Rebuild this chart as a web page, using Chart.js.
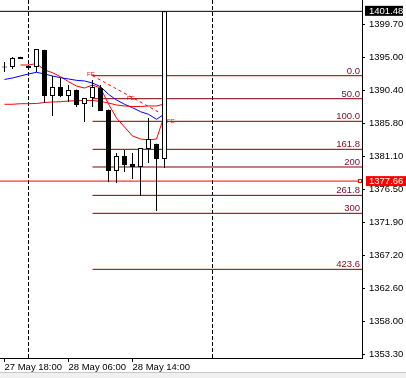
<!DOCTYPE html>
<html>
<head>
<meta charset="utf-8">
<script src="https://cdn.jsdelivr.net/npm/chart.js@4.4.0/dist/chart.umd.min.js"></script>
<style>
  html, body { margin: 0; padding: 0; background: #fff; }
  canvas { display: block; }
</style>
</head>
<body>
<canvas id="myChart" width="406" height="378"></canvas>
<script>
// candles, oldest first (x = candle index)
var opens  = [1393.75, 1393.67, 1395.07, 1393.81, 1393.67, 1396.05, 1389.60, 1390.86, 1389.60, 1390.44, 1388.48,
              1389.32, 1390.72, 1387.64, 1379.08, 1381.18, 1380.06, 1379.64, 1382.16, 1382.86, 1380.76];
var highs  = [1394.37, 1395.07, 1395.10, 1393.90, 1396.20, 1396.10, 1392.41, 1392.13, 1391.14, 1390.50, 1389.32,
              1391.85, 1391.14, 1387.70, 1381.60, 1382.02, 1381.60, 1382.30, 1386.51, 1382.90, 1401.48];
var lows   = [1392.97, 1393.39, 1394.79, 1393.50, 1392.97, 1388.62, 1386.79, 1389.46, 1388.76, 1388.06, 1385.95,
              1388.06, 1387.50, 1377.53, 1377.39, 1378.94, 1377.95, 1375.57, 1380.20, 1373.46, 1379.50];
var closes = [1393.60, 1394.93, 1394.79, 1393.53, 1396.20, 1389.60, 1390.86, 1389.60, 1390.44, 1388.34, 1389.32,
              1390.86, 1387.50, 1379.08, 1381.18, 1379.92, 1379.64, 1382.30, 1383.57, 1380.76, 1401.48];

// moving averages, one value per candle (null = not drawn)
var maBlue = [1391.92, 1392.13, 1392.41, 1392.69, 1392.93, 1392.69, 1392.41, 1392.17, 1391.99, 1391.80, 1391.71,
              1391.42, 1390.91, 1389.84, 1389.04, 1388.44, 1387.96, 1387.40, 1387.03, 1386.33, 1387.08];
var maFast = [null, null, 1393.95, 1393.95, 1394.16, 1393.25, 1392.87, 1392.31, 1391.61, 1391.00, 1390.72,
              1391.14, 1390.72, 1388.48, 1386.51, 1385.25, 1383.99, 1383.57, 1383.43, 1383.57, 1386.93];
var maSlow = [1388.44, 1388.44, 1388.52, 1388.52, 1388.55, 1388.69, 1388.76, 1388.80, 1388.90, 1388.94, 1388.97,
              1388.97, 1388.83, 1388.62, 1388.34, 1388.20, 1388.13, 1388.13, 1388.20, 1388.20, 1388.48];

// fibonacci expansion
var fibLevels = ['0.0', '50.0', '100.0', '161.8', '200', '261.8', '300', '423.6'];
var fibPrices = [1392.45, 1389.22, 1386.05, 1382.12, 1379.64, 1375.66, 1373.14, 1365.28];
var fibStart = 11;
var fibTrendX = [11, 19.5];
var fibTrendY = [1392.45, 1387.20];
var fibTagX = [10.8, 15.8, 20.8];
var fibTagY = [1392.6, 1389.3, 1386.0];

var bidPrice = 1401.48;
var alertPrice = 1377.66;
var separators = [3, 26];

var yTicks = [1399.70, 1395.00, 1390.40, 1385.80, 1381.10, 1376.50, 1371.90, 1367.20, 1362.60, 1358.00, 1353.30];
var timeIdx = [0, 8, 16];
var timeLabels = ['27 May 18:00', '28 May 06:00', '28 May 14:00'];

var xMin = -0.5625, xMax = 44.6875;
var yMin = 1352.84, yMax = 1403.07;
var FONT = 'Liberation Sans';
var MAROON = '#800000';

function series(arr) {
  var out = [];
  arr.forEach(function (v, i) { if (v !== null) out.push({x: i, y: v}); });
  return out;
}

var wicks = opens.map(function (o, i) { return {x: i, y: [lows[i], highs[i]]}; });
var bodies = opens.map(function (o, i) { return {x: i, y: [o, closes[i]]}; });
var bodyFill = opens.map(function (o, i) { return closes[i] >= o ? '#ffffff' : '#000000'; });

var datasets = [
  {type: 'bar', data: bodies, backgroundColor: bodyFill, borderColor: '#000', borderWidth: 1,
   borderSkipped: false, barThickness: 5, grouped: false, inflateAmount: 0, order: 0},
  {type: 'bar', data: wicks, backgroundColor: '#000', borderWidth: 0,
   barThickness: 1, grouped: false, inflateAmount: 0, order: 1}
];

function addLine(data, color, dash, order) {
  datasets.push({type: 'line', data: data, borderColor: color, borderWidth: 1, borderDash: dash || [],
    pointRadius: 0, fill: false, tension: 0, order: order || 5});
}

fibPrices.forEach(function (p) { addLine([{x: fibStart, y: p}, {x: xMax, y: p}], MAROON); });
addLine([{x: xMin, y: bidPrice}, {x: xMax, y: bidPrice}], '#000');
addLine([{x: xMin, y: alertPrice}, {x: xMax, y: alertPrice}], '#ff0000');
separators.forEach(function (s) { addLine([{x: s, y: yMin}, {x: s, y: yMax}], '#000', [4, 2]); });
addLine(series(maSlow), '#ff0000', null, 3);
addLine(series(maBlue), '#0000ff', null, 3);
addLine(series(maFast), '#ff0000', null, 3);
addLine(fibTrendX.map(function (x, i) { return {x: x, y: fibTrendY[i]}; }), '#ff0000', [3, 3], 3);

var decor = {
  id: 'decor',
  beforeDraw: function (c) {
    var g = c.ctx;
    g.save();
    g.fillStyle = '#ffffff';
    g.fillRect(0, 0, c.width, c.height);
    g.fillStyle = '#f0f0f0';
    g.fillRect(0, 372, c.width, c.height - 372);
    g.fillStyle = '#c8c8c8';
    g.fillRect(0, 372, c.width, 1);
    g.restore();
  },
  afterDraw: function (c) {
    var g = c.ctx, ys = c.scales.y, xs = c.scales.x, a = c.chartArea;
    g.save();
    g.font = '9.5px "' + FONT + '"';
    g.textAlign = 'right';
    g.textBaseline = 'alphabetic';
    g.fillStyle = '#801030';
    fibPrices.forEach(function (p, i) {
      g.fillText(fibLevels[i], a.right - 2, Math.round(ys.getPixelForValue(p)) - 2);
    });
    g.font = '6px "' + FONT + '"';
    g.textAlign = 'center';
    g.textBaseline = 'middle';
    g.fillStyle = '#ff0000';
    fibTagX.forEach(function (x, i) {
      g.fillText('FE', xs.getPixelForValue(x), ys.getPixelForValue(fibTagY[i]));
    });
    // price boxes on the axis
    g.font = '9.5px "' + FONT + '"';
    g.textAlign = 'left';
    var yb = ys.getPixelForValue(bidPrice);
    g.fillStyle = '#000';
    g.fillRect(365, yb - 5.5, 38, 10);
    g.fillStyle = '#fff';
    g.fillText(bidPrice.toFixed(2), 369, yb);
    var ya = ys.getPixelForValue(alertPrice);
    g.fillStyle = '#ff0000';
    g.fillRect(366, ya - 5, 40, 10);
    g.fillStyle = '#fff';
    g.fillText(alertPrice.toFixed(2), 369, ya);
    g.strokeStyle = '#ff0000';
    g.fillStyle = '#fff';
    g.fillRect(358, Math.round(ya) - 2, 4, 4);
    g.strokeRect(358.5, Math.round(ya) - 1.5, 3, 3);
    g.restore();
  }
};

var ctx = document.getElementById('myChart').getContext('2d');
var myChart = new Chart(ctx, {
  type: 'bar',
  data: {datasets: datasets},
  options: {
    responsive: false,
    animation: false,
    devicePixelRatio: 1,
    layout: {padding: 0},
    plugins: {legend: {display: false}, tooltip: {enabled: false}},
    scales: {
      x: {
        type: 'linear', min: xMin, max: xMax, offset: false, position: 'bottom',
        grid: {offset: false, drawOnChartArea: false, drawTicks: true, tickLength: 4, color: '#000'},
        border: {display: true, color: '#000'},
        ticks: {
          align: 'start', padding: 0, maxRotation: 0, autoSkip: false, color: '#000',
          font: {family: FONT, size: 9.5},
          callback: function (v) { var k = timeIdx.indexOf(v); return k < 0 ? '' : timeLabels[k]; }
        },
        afterBuildTicks: function (s) { s.ticks = timeIdx.map(function (v) { return {value: v}; }); },
        afterFit: function (s) { s.height = 20; s.paddingLeft = 0; s.paddingRight = 0; }
      },
      y: {
        position: 'right', min: yMin, max: yMax,
        grid: {drawOnChartArea: false, drawTicks: true, tickLength: 3, color: '#000'},
        border: {display: true, color: '#000'},
        ticks: {
          padding: 4, color: '#000', font: {family: FONT, size: 9.5},
          callback: function (v) { return Number(v).toFixed(2); }
        },
        afterBuildTicks: function (s) { s.ticks = yTicks.map(function (v) { return {value: v}; }); },
        afterFit: function (s) { s.width = 44; s.paddingTop = 0; s.paddingBottom = 0; }
      }
    }
  },
  plugins: [decor]
});
</script>
</body>
</html>
